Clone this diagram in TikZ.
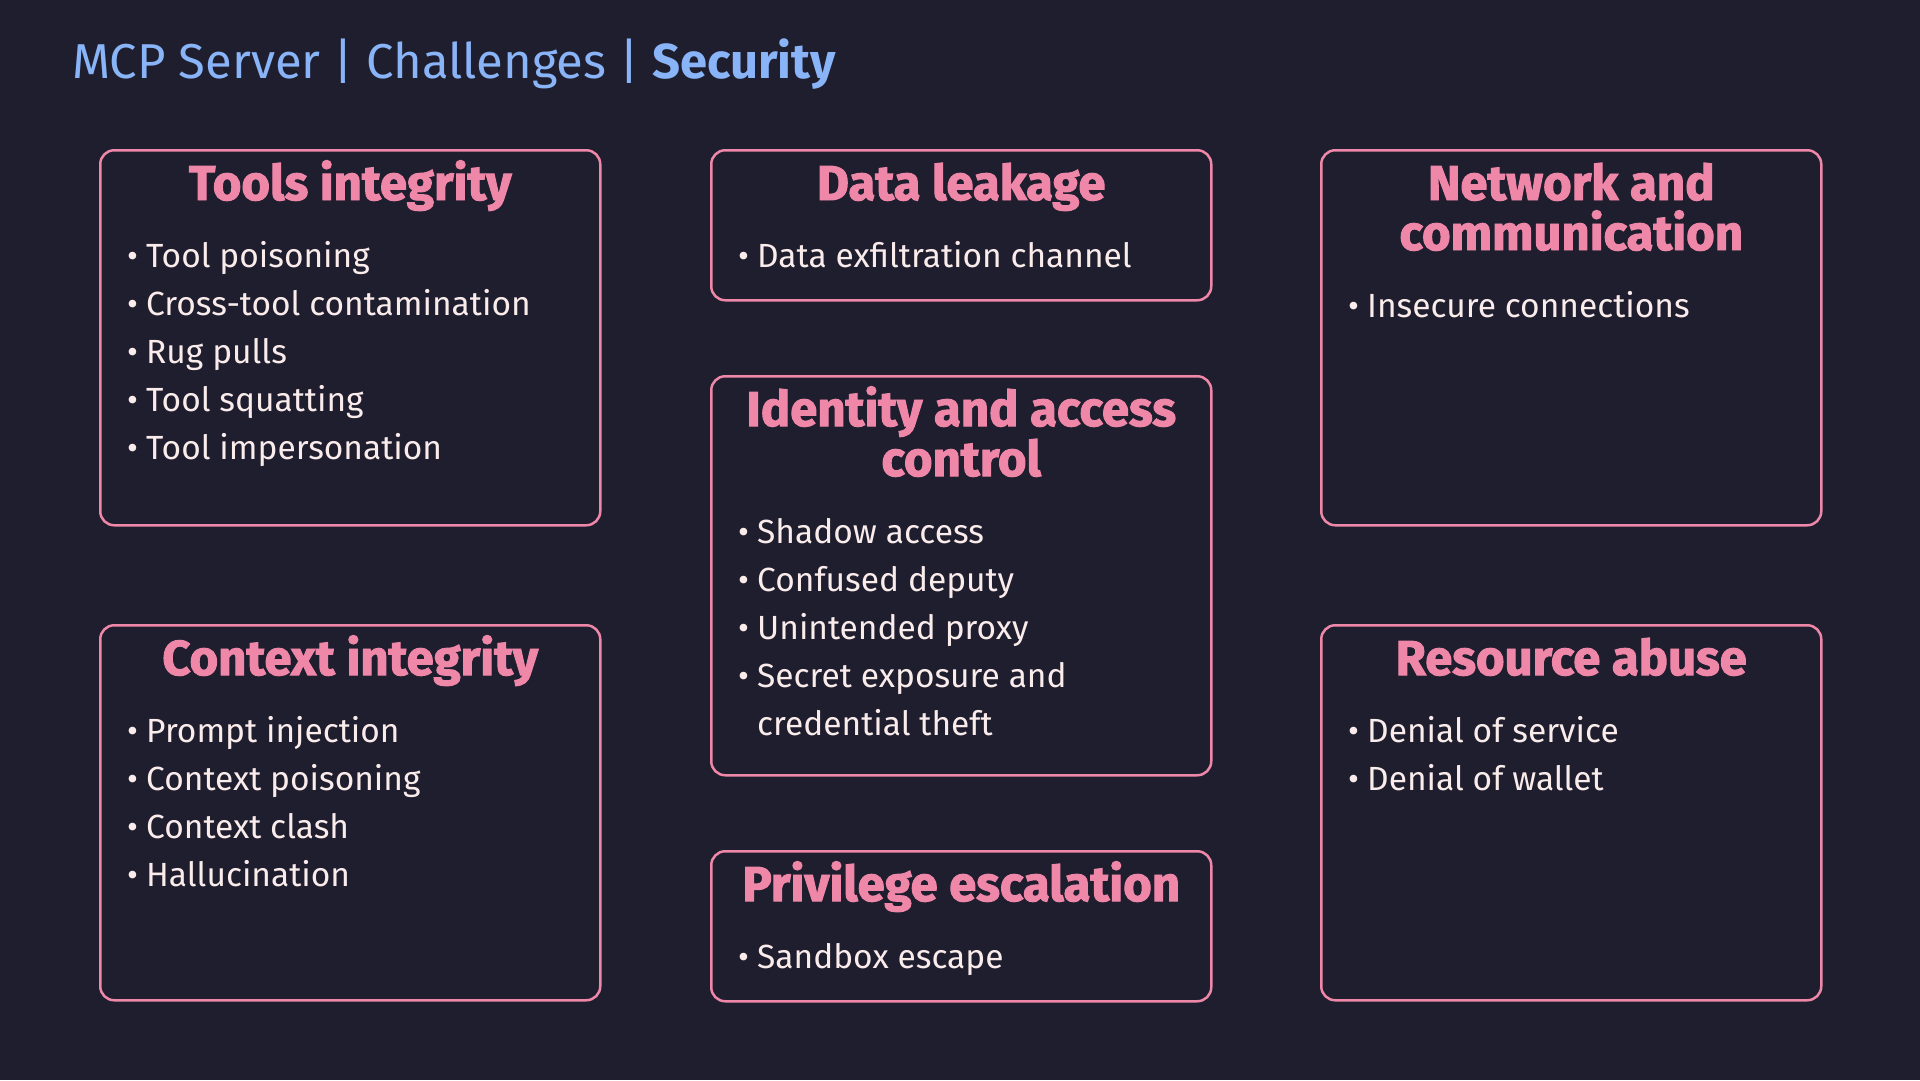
\documentclass[tikz,border=0pt]{standalone}
\usepackage{xcolor}
\usepackage{fontspec}
\setmainfont{Fira Sans}
\usepackage{tikz}
\usetikzlibrary{positioning}

\definecolor{slide}{HTML}{1F1E2E}
\definecolor{rose}{HTML}{EE87A8}
\definecolor{sky}{HTML}{8AB4F8}
\definecolor{chalk}{HTML}{FBECEC}
\newcommand{\itm}{\makebox[19pt][l]{\textbullet}}

\begin{document}
\begin{tikzpicture}[x=1pt, y=-1pt,
        panel/.style={rectangle, rounded corners=14pt, draw=rose, line width=2.5pt, fill=slide,
                      minimum width=500pt, inner sep=0pt, anchor=north west},
        head/.style={text=rose, font=\fontsize{49}{50}\selectfont\bfseries\addfontfeatures{FakeBold=2},
                     align=center, anchor=base, inner sep=0pt},
        items/.style={text=chalk, font=\fontsize{33.5}{48}\selectfont, align=left,
                      anchor=base west, inner sep=0pt}]
        \fill[slide] (0,0) rectangle (1920,1080);
        \useasboundingbox (0,0) rectangle (1920,1080);

        \node[anchor=base west, inner sep=0pt, text=sky, font=\fontsize{49}{56}\selectfont]
            (title) at (72,78) {MCP Server | Challenges | \textbf{Security}};

        \node[panel, minimum height=375pt] (tools)     at (99,149)   {};
        \node[panel, minimum height=375pt] (context)   at (99,624)   {};
        \node[panel, minimum height=150pt] (leak)      at (710,149)  {};
        \node[panel, minimum height=399pt] (identity)  at (710,375)  {};
        \node[panel, minimum height=150pt] (privilege) at (710,850)  {};
        \node[panel, minimum height=375pt] (network)   at (1320,149) {};
        \node[panel, minimum height=375pt] (resource)  at (1320,624) {};

        % headings: base = last line
        \node[head] (toolsHead)     at ([yshift=-51pt]tools.north)      {Tools integrity};
        \node[head] (contextHead)   at ([yshift=-51pt]context.north)    {Context integrity};
        \node[head] (leakHead)      at ([yshift=-51pt]leak.north)       {Data leakage};
        \node[head] (identityHead)  at ([yshift=-101pt]identity.north)  {Identity and access\\control};
        \node[head] (privilegeHead) at ([yshift=-51pt]privilege.north)  {Privilege escalation};
        \node[head] (networkHead)   at ([yshift=-101pt]network.north)   {Network and\\communication};
        \node[head] (resourceHead)  at ([yshift=-51pt]resource.north)   {Resource abuse};

        % bullet lists: base = last line
        \node[items] (toolsList) at ([xshift=28pt,yshift=-310pt]tools.north west)
            {\itm Tool poisoning\\\itm Cross-tool contamination\\\itm Rug pulls\\\itm Tool squatting\\\itm Tool impersonation};
        \node[items] (contextList) at ([xshift=28pt,yshift=-262pt]context.north west)
            {\itm Prompt injection\\\itm Context poisoning\\\itm Context clash\\\itm Hallucination};
        \node[items] (leakList) at ([xshift=28pt,yshift=-118pt]leak.north west)
            {\itm Data exfiltration channel};
        \node[items] (identityList) at ([xshift=28pt,yshift=-360pt]identity.north west)
            {\itm Shadow access\\\itm Confused deputy\\\itm Unintended proxy\\\itm Secret exposure and\\\hspace*{19pt}credential theft};
        \node[items] (privilegeList) at ([xshift=28pt,yshift=-118pt]privilege.north west)
            {\itm Sandbox escape};
        \node[items] (networkList) at ([xshift=28pt,yshift=-168pt]network.north west)
            {\itm Insecure connections};
        \node[items] (resourceList) at ([xshift=28pt,yshift=-166pt]resource.north west)
            {\itm Denial of service\\\itm Denial of wallet};
    \end{tikzpicture}
\end{document}
